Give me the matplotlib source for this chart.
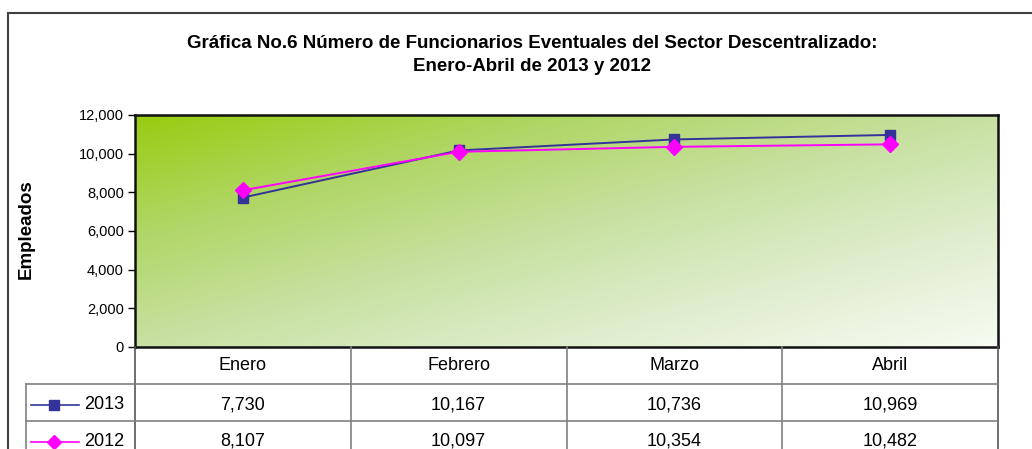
import matplotlib
matplotlib.use("Agg")
import matplotlib.pyplot as plt
import numpy as np
from matplotlib.lines import Line2D
from matplotlib.patches import Rectangle
from matplotlib.colors import LinearSegmentedColormap

months = ["Enero", "Febrero", "Marzo", "Abril"]
series_names = ["2013", "2012"]
values_2013 = [7730, 10167, 10736, 10969]
values_2012 = [8107, 10097, 10354, 10482]
y_ticks = [0, 2000, 4000, 6000, 8000, 10000, 12000]
title = "Gráfica No.6 Número de Funcionarios Eventuales del Sector Descentralizado:\nEnero-Abril de 2013 y 2012"
ylabel = "Empleados"

plt.rcParams['font.family'] = ['Liberation Sans', 'DejaVu Sans']

W, H = 1032, 449
fig = plt.figure(figsize=(W / 100, H / 100), dpi=100)

def fx(px):
    return px / W

def fy(py):
    return 1 - py / H

# outer border
fig.patches.append(Rectangle((fx(8), fy(470)), fx(1040) - fx(8), fy(13) - fy(470),
                             transform=fig.transFigure, fill=False, edgecolor="#404040",
                             linewidth=1.5, zorder=0))

L, R, T, B = 135, 998, 115, 347
ax = fig.add_axes([fx(L), fy(B), fx(R) - fx(L), fy(T) - fy(B)])

# gradient background
n = 300
xx, yy = np.meshgrid(np.linspace(0, 1, n), np.linspace(0, 1, n))
t = np.clip(0.5 * xx + 0.5 * yy, 0, 1)
cmap = LinearSegmentedColormap.from_list("g", [(0.0, "#99cc10"), (0.25, "#b0d664"),
                                               (0.5, "#c8e1a2"), (0.75, "#e0eecf"),
                                               (1.0, "#f7fbf2")])
ax.imshow(t, cmap=cmap, extent=[0, 1, 0, 1], transform=ax.transAxes, aspect="auto",
          origin="upper", zorder=0, interpolation="bilinear")

x = np.arange(len(months))
ax.plot(x, values_2013, color="#333399", lw=1.4, marker="s", ms=7.5, mfc="#333399",
        mec="#333399", zorder=3)
ax.plot(x, values_2012, color="#ff00ff", lw=1.4, marker="D", ms=8.5, mfc="#ff00ff",
        mec="#ff00ff", zorder=4)
ax.set_xlim(-0.5, len(months) - 0.5)
ax.set_ylim(0, 12000)
ax.set_yticks(y_ticks)
ax.set_yticklabels([f"{v:,}" for v in y_ticks], fontsize=10.5)
ax.set_xticks([])
ax.tick_params(axis="y", direction="out", length=5, width=1, pad=3)
for s in ax.spines.values():
    s.set_linewidth(1.8)
    s.set_color("#111111")

fig.text(fx(26), fy(229), ylabel, rotation=90, ha="center", va="center",
         fontsize=13.5, fontweight="bold")

fig.text(fx(532), fy(55), title, ha="center", va="center", fontsize=13.5,
         fontweight="bold", linespacing=1.5)

# table
grid_c = "#808080"
col_w = (R - L) / len(months)
row_h = 37
def hline(y, x0, x1, c=grid_c, lw=1.2):
    fig.lines.append(Line2D([fx(x0), fx(x1)], [fy(y), fy(y)], transform=fig.transFigure,
                            color=c, lw=lw))
def vline(xp, y0, y1, c=grid_c, lw=1.2):
    fig.lines.append(Line2D([fx(xp), fx(xp)], [fy(y0), fy(y1)], transform=fig.transFigure,
                            color=c, lw=lw))

legend_left = 26
for i in range(len(months) + 1):
    vline(L + i * col_w, B, H + 5, c="#555555" if i in (0, len(months)) else grid_c)
vline(legend_left, B + row_h, H + 5)
hline(B + row_h, legend_left, R)
hline(B + 2 * row_h, legend_left, R)

fs = 13
for i, m in enumerate(months):
    cx = L + (i + 0.5) * col_w
    fig.text(fx(cx), fy(B + row_h / 2), m, ha="center", va="center", fontsize=fs)
    fig.text(fx(cx), fy(B + row_h * 1.5 + 2), f"{values_2013[i]:,}", ha="center", va="center", fontsize=fs)
    fig.text(fx(cx), fy(B + row_h * 2.5 + 2), f"{values_2012[i]:,}", ha="center", va="center", fontsize=fs)

styles = [("#333399", "s", 6.5), ("#ff00ff", "D", 7.5)]
for r, (name, (c, mk, ms)) in enumerate(zip(series_names, styles)):
    yc = B + row_h * (1.5 + r) + 2
    fig.lines.append(Line2D([fx(31), fx(79)], [fy(yc), fy(yc)], transform=fig.transFigure,
                            color=c, lw=1.2))
    fig.lines.append(Line2D([fx(54)], [fy(yc)], transform=fig.transFigure, color=c,
                            marker=mk, ms=ms, mfc=c, mec=c, lw=0))
    fig.text(fx(84), fy(yc), name, ha="left", va="center", fontsize=fs)

fig.savefig("out.png", dpi=100)
